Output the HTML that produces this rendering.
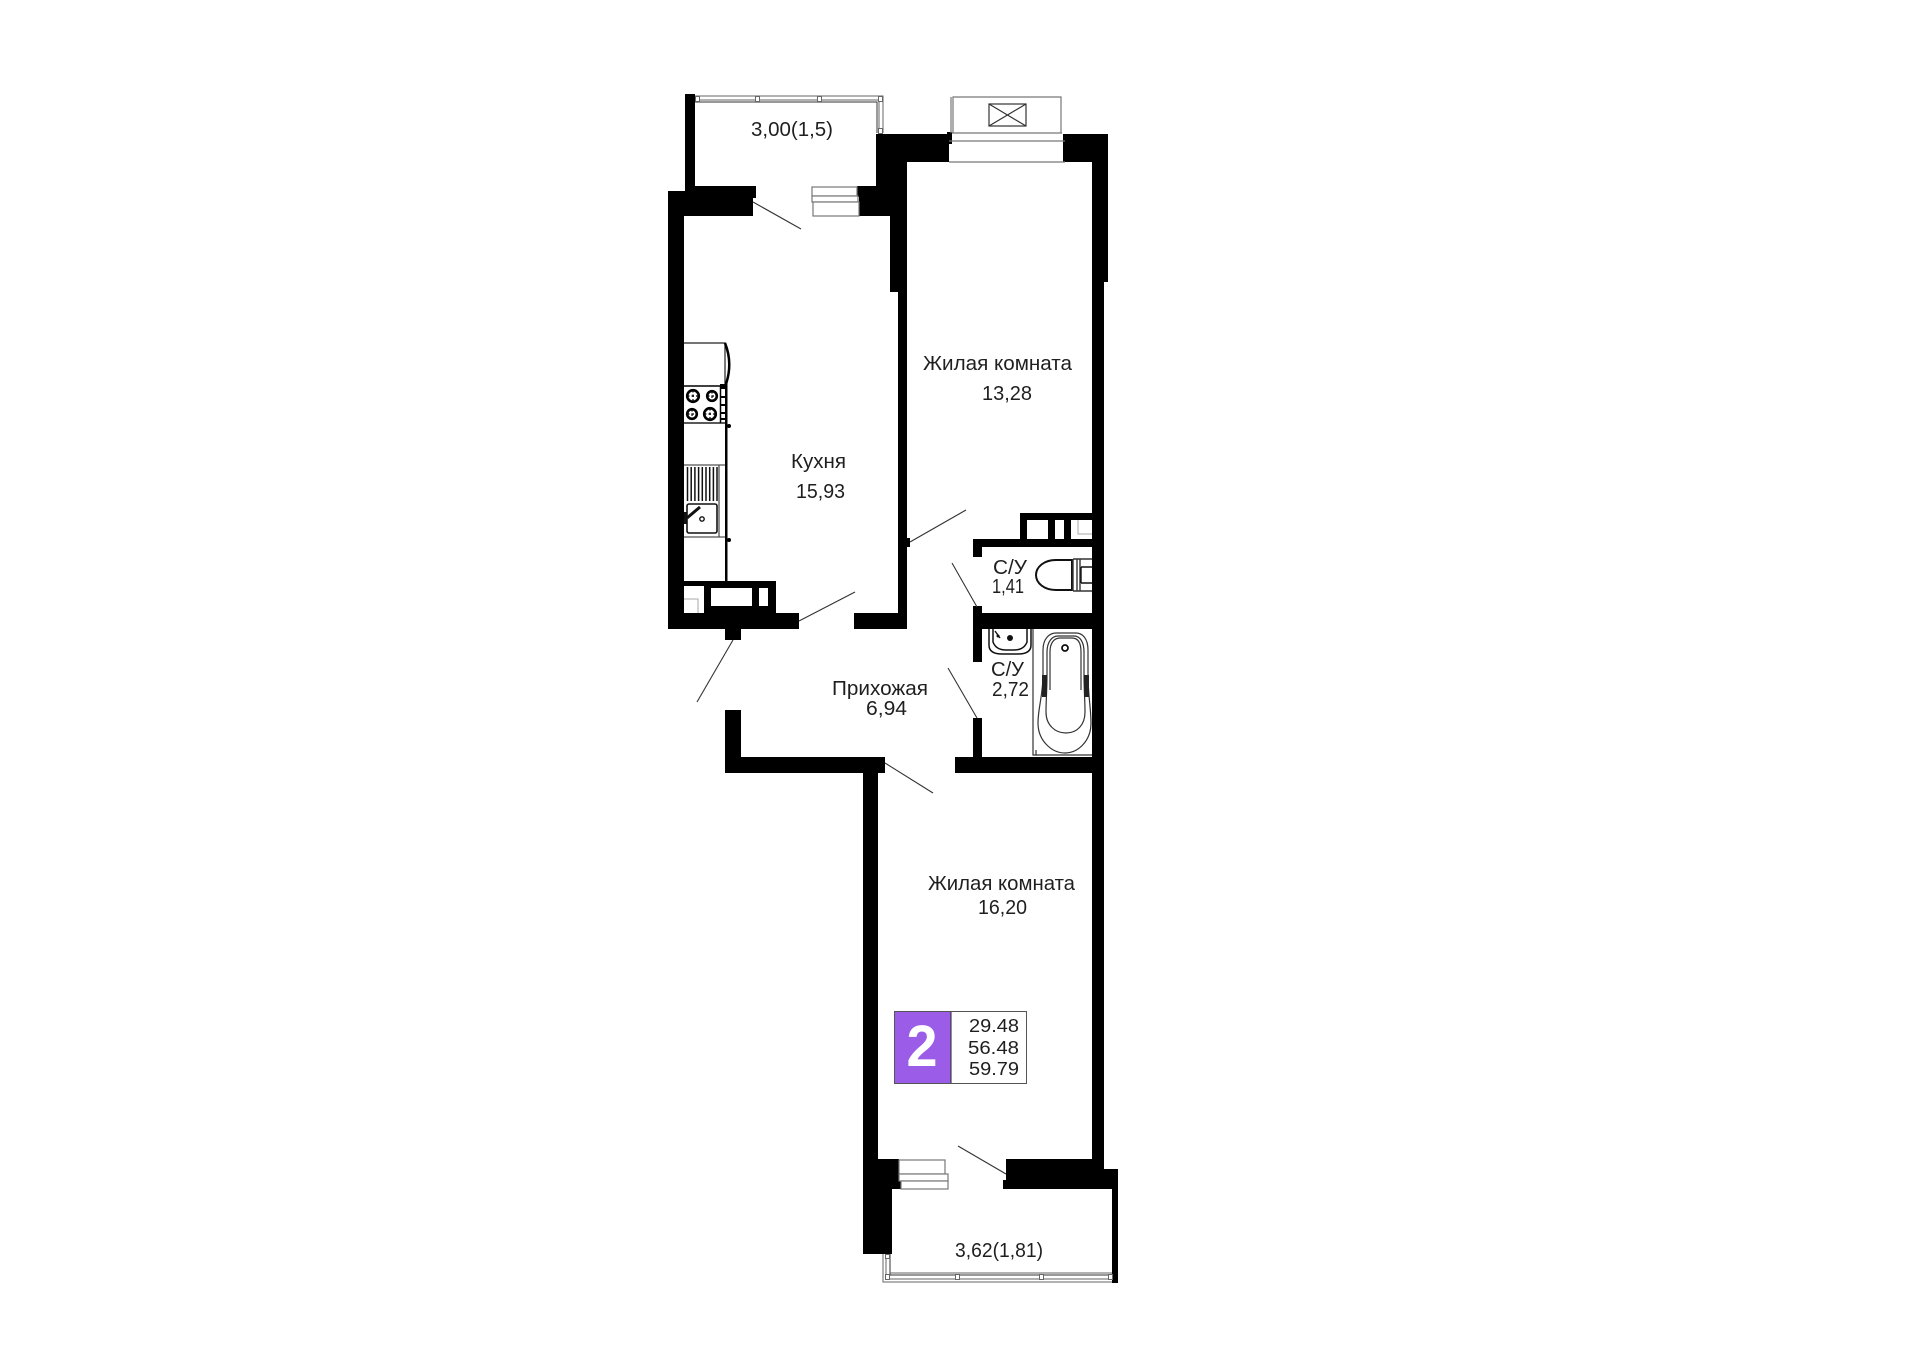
<!DOCTYPE html>
<html><head><meta charset="utf-8"><style>
html,body{margin:0;padding:0;background:#fff}
svg{display:block}
text{font-family:"Liberation Sans",sans-serif;font-size:20px;fill:#1f1f1f}
</style></head><body>
<svg width="1920" height="1357" viewBox="0 0 1920 1357" xmlns="http://www.w3.org/2000/svg">
<rect width="1920" height="1357" fill="#fff"/>
<!-- walls -->
<g fill="#000">
<rect x="685" y="94" width="10" height="95"/>
<rect x="685" y="186" width="71" height="12"/>
<rect x="668" y="191" width="85" height="25"/>
<rect x="668" y="191" width="16" height="438"/>
<rect x="668" y="613" width="131" height="16"/>
<rect x="725" y="629" width="16" height="11"/>
<rect x="854" y="613" width="53" height="16"/>
<rect x="898" y="216" width="9" height="413"/>
<rect x="890" y="216" width="17" height="76"/>
<rect x="859" y="197" width="48" height="19"/>
<rect x="857" y="186" width="19" height="11"/>
<rect x="876" y="134" width="31" height="82"/>
<rect x="907" y="134" width="42" height="28"/>
<rect x="947" y="132" width="5" height="12"/>
<rect x="1063" y="134" width="45" height="28"/>
<rect x="1092" y="134" width="16" height="148"/>
<rect x="1092" y="134" width="12" height="1040"/>
<rect x="906" y="538" width="4" height="9"/>
<!-- kitchen bottom block -->
<rect x="684" y="581" width="92" height="32"/>
<!-- wc -->
<rect x="1020" y="513" width="72" height="34"/>
<rect x="973" y="539" width="119" height="8"/>
<rect x="973" y="539" width="9" height="18"/>
<rect x="973" y="613" width="119" height="16"/>
<rect x="973" y="606" width="9" height="56"/>
<rect x="973" y="718" width="9" height="39"/>
<rect x="955" y="757" width="137" height="16"/>
<!-- hall -->
<rect x="725" y="710" width="16" height="61"/>
<rect x="725" y="757" width="160" height="16"/>
<rect x="863" y="773" width="15" height="386"/>
<!-- lower -->
<rect x="1006" y="1159" width="98" height="30"/>
<rect x="1003" y="1180" width="4" height="9"/>
<rect x="1104" y="1169" width="14" height="20"/>
<rect x="1112" y="1169" width="6" height="114"/>
<rect x="863" y="1159" width="36" height="21"/>
<rect x="863" y="1180" width="38" height="9"/>
<rect x="863" y="1189" width="29" height="65"/>
</g>
<!-- holes -->
<g fill="#fff">
<rect x="684" y="586" width="20" height="27"/>
<rect x="711" y="588" width="41" height="18"/>
<rect x="759" y="588" width="9" height="18"/>
<rect x="1027" y="520" width="21" height="19"/>
<rect x="1055" y="520" width="9" height="19"/>
<rect x="1071" y="520" width="21" height="19"/>
</g>
<path d="M684 599H698V613M1078 520V534H1092" fill="none" stroke="#aaa" stroke-width="1"/>
<!-- door leaves -->
<g stroke="#333" stroke-width="1.1" fill="none">
<path d="M753 202L801 229"/>
<path d="M799 621L855 592"/>
<path d="M733 640L697 702"/>
<path d="M910 542L966 510"/>
<path d="M952 563L977 607"/>
<path d="M948 668L977 718"/>
<path d="M885 763L933 793"/>
<path d="M958 1146L1006 1174"/>
</g>
<!-- top balcony rail -->
<g stroke="#666" stroke-width="1" fill="none">
<path d="M695 96H883V133"/>
<path d="M695 100H879V133"/>
<path d="M695 102H877V133" stroke="#333"/>
<rect x="695.5" y="96.5" width="4" height="5" fill="#fff"/>
<rect x="755.5" y="96.5" width="4" height="5" fill="#fff"/>
<rect x="817.5" y="96.5" width="4" height="5" fill="#fff"/>
<rect x="878.5" y="96.5" width="4" height="5" fill="#fff"/>
<rect x="878.5" y="128.5" width="4" height="5" fill="#fff"/>
</g>
<!-- bottom balcony rail -->
<g stroke="#666" stroke-width="1" fill="none">
<path d="M883 1254V1282H1112"/>
<path d="M886 1254V1279H1112"/>
<path d="M890 1254V1275H1112" stroke="#333"/>
<path d="M890 1273H1112"/>
<rect x="885.5" y="1274.5" width="4" height="5" fill="#fff"/>
<rect x="955.5" y="1274.5" width="4" height="5" fill="#fff"/>
<rect x="1039.5" y="1274.5" width="4" height="5" fill="#fff"/>
<rect x="1108.5" y="1274.5" width="4" height="5" fill="#fff"/>
<rect x="885.5" y="1254.5" width="4" height="4" fill="#fff"/>
</g>
<!-- windows -->
<g stroke="#777" stroke-width="1.2" fill="#fff">
<path d="M951 97V133M953 133V97H1061V133" fill="none"/>
<path d="M952 133H1062M949 141H1065M949 162H1065" fill="none"/>
<rect x="989" y="104" width="37" height="22" fill="none" stroke="#333"/>
<path d="M989 104L1026 126M1026 104L989 126" fill="none" stroke="#333"/>
<rect x="812" y="187" width="45" height="9"/>
<rect x="812" y="196" width="46" height="6"/>
<rect x="813" y="202" width="46" height="14"/>
<rect x="899" y="1160" width="46" height="14"/>
<rect x="899" y="1174" width="49" height="7"/>
<rect x="901" y="1181" width="47" height="8"/>
</g>
<!-- kitchen -->
<g fill="none" stroke="#222" stroke-width="1.2">
<path d="M684 343H725V386"/>
<path d="M684 386H725" stroke="#000" stroke-width="1.5"/>
<path d="M684 423H725" stroke-width="1.5"/>
<path d="M684 465H725" stroke="#555"/>
<path d="M684 537H725" stroke="#555"/>
<path d="M725 343Q733 363 726 384" stroke="#000" stroke-width="2.5"/>
<path d="M719 465V537" stroke="#444"/>
</g>
<rect x="725" y="383" width="2.5" height="198" fill="#000"/>
<rect x="720" y="384" width="6" height="5" fill="#000"/>
<path d="M720.5 386V423" stroke="#000" stroke-width="1.5" fill="none"/>
<g fill="#000">
<rect x="721" y="396" width="5" height="2"/><rect x="721" y="404" width="5" height="2"/><rect x="721" y="412" width="5" height="2"/><rect x="721" y="418" width="5" height="2"/>
<circle cx="729" cy="426" r="2"/><circle cx="729" cy="540" r="2"/>
</g>
<g fill="#fff" stroke="#000" stroke-width="2.6">
<circle cx="693" cy="396" r="5.8"/><circle cx="712" cy="396" r="4.8"/>
<circle cx="692" cy="414" r="4.8"/><circle cx="710" cy="414" r="5.8"/>
</g>
<g stroke="#000" stroke-width="1.2" fill="none">
<path d="M687 396h12M693 390v12M707 396h10M712 391v10M687 414h10M692 409v10M704 414h12M710 408v12" stroke-dasharray="2.5 2"/>
</g>
<g stroke="#111" stroke-width="1.5">
<path d="M687.5 467V501M691.2 467V501M694.9 467V501M698.6 467V501M702.3 467V501M706 467V501M709.7 467V501M713.4 467V501M717 467V501"/>
</g>
<rect x="687" y="504" width="30" height="29" rx="2" fill="#fff" stroke="#111" stroke-width="1.6"/>
<path d="M687 518L700 507" stroke="#111" stroke-width="3"/>
<rect x="684" y="512" width="3" height="12" fill="#111"/>
<circle cx="702" cy="519" r="2.2" fill="#fff" stroke="#111" stroke-width="1.4"/>
<!-- toilet -->
<g fill="none" stroke="#111" stroke-width="1.4">
<path d="M1072 560H1056C1044 560 1036 567 1036 575C1036 583 1044 590 1056 590H1072Z" stroke-width="2"/>
<path d="M1073 559V591M1077 559V591M1080 559V591" stroke="#333"/>
<path d="M1073 559H1092M1073 591H1092" stroke="#333"/>
<path d="M1081 567H1092M1081 583H1092M1081 567V583"/>
</g>
<!-- wash basin -->
<g fill="none" stroke="#111" stroke-width="1.5">
<path d="M989 629V645Q989 654 1002 654H1018Q1031 654 1031 645V629"/>
<path d="M993 629V642Q996 650 1006 650H1014Q1024 650 1027 642V629"/>
</g>
<circle cx="1010" cy="638" r="3" fill="#111"/>
<circle cx="998" cy="636" r="1.5" fill="#111"/>
<path d="M995 631L1000 638" stroke="#111" stroke-width="1.4"/>
<!-- bath -->
<g fill="none" stroke="#333" stroke-width="1.2">
<path d="M1033 629V755H1036V750"/>
<path d="M1036 755H1092"/>
<path d="M1043 675V650C1043 638 1050 633 1056 633H1076C1082 633 1088 638 1088 650V675C1088 695 1091 708 1091 723C1091 741 1078 753 1065 753C1052 753 1038 741 1038 723C1038 708 1043 695 1043 675Z"/>
<path d="M1046 712C1046 700 1047 690 1047 675V652C1047 642 1052 636 1058 636H1074C1080 636 1084 642 1084 652V675C1084 690 1085 700 1085 712C1085 725 1077 733 1066 733C1055 733 1046 725 1046 712Z"/>
<path d="M1050 690V652C1050 643 1054 638 1060 638H1072C1078 638 1081 643 1081 652V690"/>
</g>
<rect x="1042" y="675" width="5" height="22" fill="#222"/>
<rect x="1084" y="675" width="5" height="22" fill="#222"/>
<circle cx="1065" cy="648" r="3" fill="#fff" stroke="#111" stroke-width="1.8"/>
<!-- legend -->
<rect x="894.5" y="1011.5" width="132" height="72" fill="#fff" stroke="#555" stroke-width="1"/>
<rect x="895" y="1012" width="56" height="71" fill="#9b5de8"/>
<path d="M951 1012V1083" stroke="#222" stroke-width="1"/>
<text x="922" y="1066" text-anchor="middle" style="font-size:58px;font-weight:700;fill:#fff" textLength="31" lengthAdjust="spacingAndGlyphs">2</text>
<text x="969" y="1032" style="font-size:18.5px" textLength="50" lengthAdjust="spacingAndGlyphs">29.48</text>
<text x="968" y="1054" style="font-size:18.5px" textLength="51" lengthAdjust="spacingAndGlyphs">56.48</text>
<text x="969" y="1075" style="font-size:18.5px" textLength="50" lengthAdjust="spacingAndGlyphs">59.79</text>
<!-- labels -->
<text x="751" y="136" textLength="82" lengthAdjust="spacingAndGlyphs">3,00(1,5)</text>
<text x="923" y="370" textLength="149" lengthAdjust="spacingAndGlyphs">Жилая комната</text>
<text x="982" y="400" textLength="50" lengthAdjust="spacingAndGlyphs">13,28</text>
<text x="791" y="468" textLength="55" lengthAdjust="spacingAndGlyphs">Кухня</text>
<text x="796" y="498" textLength="49" lengthAdjust="spacingAndGlyphs">15,93</text>
<text x="832" y="695" textLength="96" lengthAdjust="spacingAndGlyphs">Прихожая</text>
<text x="866" y="715" textLength="41" lengthAdjust="spacingAndGlyphs">6,94</text>
<text x="993" y="574" textLength="34" lengthAdjust="spacingAndGlyphs">С/У</text>
<text x="992" y="593" textLength="32" lengthAdjust="spacingAndGlyphs">1,41</text>
<text x="991" y="676" textLength="33" lengthAdjust="spacingAndGlyphs">С/У</text>
<text x="992" y="696" textLength="37" lengthAdjust="spacingAndGlyphs">2,72</text>
<text x="928" y="890" textLength="147" lengthAdjust="spacingAndGlyphs">Жилая комната</text>
<text x="978" y="914" textLength="49" lengthAdjust="spacingAndGlyphs">16,20</text>
<text x="955" y="1257" textLength="88" lengthAdjust="spacingAndGlyphs">3,62(1,81)</text>
</svg>
</body></html>
